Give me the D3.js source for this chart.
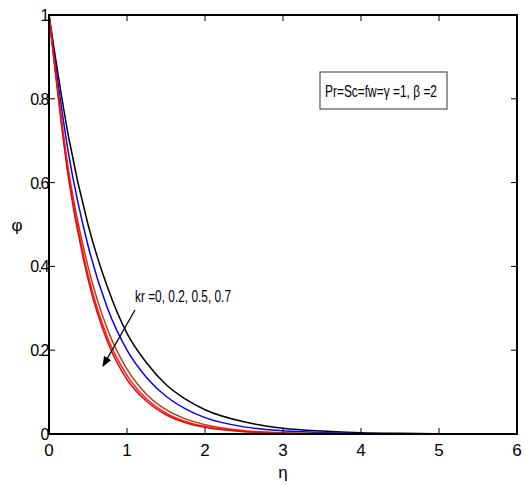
<!DOCTYPE html>
<html>
<head>
<meta charset="utf-8">
<script src="https://cdn.jsdelivr.net/npm/d3@7"></script>
<style>
  body { margin: 0; background: #fff; }
  text { font-family: "Liberation Sans", Arial, sans-serif; }
</style>
</head>
<body>
<svg id="chart" width="531" height="486"></svg>
<script>
// eta grid
const eta = [0, 0.25, 0.5, 0.75, 1, 1.25, 1.5, 1.75, 2, 2.5, 3, 3.5, 4, 4.5, 5, 6];

// phi for kr = 0, 0.2, 0.5, 0.7
const phiKr0  = [1, 0.71, 0.50, 0.35, 0.240, 0.170, 0.118, 0.083, 0.058, 0.029, 0.014, 0.007, 0.003, 0.0015, 0.0007, 0];
const phiKr02 = [1, 0.67, 0.45, 0.30, 0.200, 0.135, 0.090, 0.060, 0.039, 0.017, 0.0075, 0.0033, 0.0014, 0.0006, 0.0003, 0];
const phiKr05 = [1, 0.63, 0.40, 0.25, 0.155, 0.095, 0.058, 0.036, 0.022, 0.008, 0.003, 0.001, 0.0004, 0.0001, 0, 0];
const phiKr07a = [1, 0.62, 0.38, 0.23, 0.140, 0.084, 0.050, 0.030, 0.018, 0.0065, 0.0024, 0.0008, 0.0003, 0.0001, 0, 0];
const phiKr07 = [1, 0.61, 0.37, 0.22, 0.130, 0.078, 0.046, 0.027, 0.016, 0.0055, 0.002, 0.0007, 0.0002, 0.0001, 0, 0];

const xTicks = [0, 1, 2, 3, 4, 5, 6];
const yTicks = [0, 0.2, 0.4, 0.6, 0.8, 1];

const series = [
  {vals: phiKr0,  color: "#000000"},
  {vals: phiKr02, color: "#0000ff"},
  {vals: phiKr05, color: "#a0461e"},
  {vals: phiKr07a, color: "#ff2020"},
  {vals: phiKr07, color: "#ff0000"}
];

const L = 49, R = 517, T = 15, B = 434;

const svg = d3.select("#chart");

const x = d3.scaleLinear().domain([0, 6]).range([L, R]);
const y = d3.scaleLinear().domain([0, 1]).range([B, T]);

const fmt = d => d === 0 ? "0" : d === 1 ? "1" : d3.format(".1f")(d);

// curves
const line = d3.line()
  .x((d, i) => x(eta[i]))
  .y(d => y(d))
  .curve(d3.curveMonotoneX);

series.forEach(s => {
  svg.append("path")
    .datum(s.vals)
    .attr("fill", "none")
    .attr("stroke", s.color)
    .attr("stroke-width", 1.5)
    .attr("d", line);
});

// frame
svg.append("rect")
  .attr("x", L).attr("y", T).attr("width", R - L).attr("height", B - T)
  .attr("fill", "none").attr("stroke", "#000").attr("stroke-width", 2);

// inward ticks on all four sides
const inner = xTicks.slice(1, -1);
const innerY = yTicks.slice(1, -1);
svg.selectAll("line.xt")
  .data(inner.flatMap(d => [[d, B, B - 6], [d, T, T + 6]]))
  .join("line").attr("class", "xt")
  .attr("x1", d => x(d[0])).attr("x2", d => x(d[0]))
  .attr("y1", d => d[1]).attr("y2", d => d[2])
  .attr("stroke", "#000").attr("stroke-width", 1);
svg.selectAll("line.yt")
  .data(innerY.flatMap(d => [[d, L, L + 6], [d, R, R - 6]]))
  .join("line").attr("class", "yt")
  .attr("y1", d => y(d[0])).attr("y2", d => y(d[0]))
  .attr("x1", d => d[1]).attr("x2", d => d[2])
  .attr("stroke", "#000").attr("stroke-width", 1);

// tick labels
svg.selectAll("text.xl")
  .data(xTicks)
  .join("text").attr("class", "xl")
  .attr("x", d => x(d)).attr("y", B + 22)
  .attr("text-anchor", "middle")
  .style("font-size", "17px")
  .text(d3.format("d"));

svg.selectAll("text.yl")
  .data(yTicks)
  .join("text").attr("class", "yl")
  .attr("x", L - 1).attr("y", d => y(d) + 6)
  .attr("text-anchor", "end")
  .attr("letter-spacing", "-1.5")
  .style("font-size", "16px")
  .text(fmt);

// axis labels
svg.append("text")
  .attr("x", x(3)).attr("y", 478)
  .attr("text-anchor", "middle").style("font-size", "17px")
  .text("η");

svg.append("text")
  .attr("x", 17).attr("y", y(0.5) + 6)
  .attr("text-anchor", "middle").style("font-size", "17px")
  .text("φ");

// parameter box
svg.append("rect")
  .attr("x", 320).attr("y", 72).attr("width", 127).attr("height", 37)
  .attr("fill", "#fff").attr("stroke", "#555").attr("stroke-width", 1.2);

svg.append("text")
  .attr("x", 325).attr("y", 97)
  .style("font-size", "17px")
  .attr("textLength", 112).attr("lengthAdjust", "spacingAndGlyphs")
  .text("Pr=Sc=fw=γ =1, β =2");

// annotation
svg.append("text")
  .attr("x", 135).attr("y", 302)
  .style("font-size", "17px")
  .attr("textLength", 96).attr("lengthAdjust", "spacingAndGlyphs")
  .text("kr =0, 0.2, 0.5, 0.7");

const defs = svg.append("defs");
defs.append("marker")
  .attr("id", "arrow").attr("viewBox", "0 0 10 10")
  .attr("refX", 9).attr("refY", 5)
  .attr("markerWidth", 8).attr("markerHeight", 8)
  .attr("orient", "auto-start-reverse")
  .append("path").attr("d", "M0,1 L10,5 L0,9 Z").attr("fill", "#000");

svg.append("line")
  .attr("x1", 135).attr("y1", 310)
  .attr("x2", 103).attr("y2", 366)
  .attr("stroke", "#000").attr("stroke-width", 1.3)
  .attr("marker-end", "url(#arrow)");
</script>
</body>
</html>
